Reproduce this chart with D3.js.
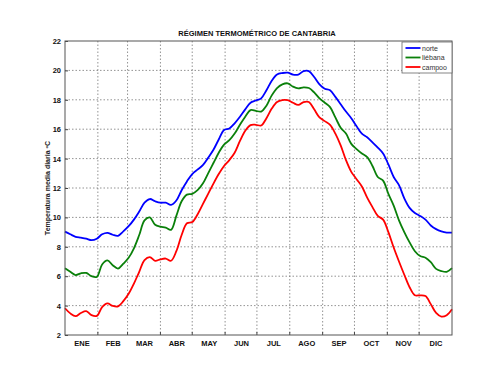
<!DOCTYPE html>
<html><head><meta charset="utf-8">
<script src="https://cdn.jsdelivr.net/npm/d3@7"></script>
<style>body{margin:0;background:#fff}svg{display:block}</style>
</head><body>
<svg id="c" width="500" height="375"></svg>
<script>
const title = "RÉGIMEN TERMOMÉTRICO DE CANTABRIA";
const yLabel = "Temperatura media diaria ºC";
const months = ["ENE","FEB","MAR","ABR","MAY","JUN","JUL","AGO","SEP","OCT","NOV","DIC"];
const monthStarts = [0,31,59,90,120,151,181,212,243,273,304,334,365];
const yTicks = [2,4,6,8,10,12,14,16,18,20,22];
const seriesNames = ["norte","liébana","campoo"];
const days = d3.range(0, 366, 5).concat([365]).filter((d,i,a)=>a.indexOf(d)===i);
const norte = [9.03,8.85,8.68,8.62,8.55,8.45,8.55,8.85,8.95,8.82,8.75,9.05,9.4,9.85,10.4,11.0,11.25,11.1,11.0,11.0,10.85,11.15,11.85,12.45,12.95,13.25,13.55,14.05,14.6,15.3,15.95,16.05,16.4,16.85,17.35,17.8,17.95,18.1,18.65,19.3,19.72,19.82,19.85,19.72,19.72,19.95,19.95,19.55,19.05,18.75,18.65,18.2,17.7,17.2,16.75,16.2,15.7,15.45,15.1,14.75,14.35,13.6,12.75,12.2,11.3,10.65,10.3,10.1,9.85,9.45,9.2,9.05,8.97,8.97];
const liebana = [6.54,6.3,6.08,6.2,6.22,6.0,5.95,6.8,7.08,6.75,6.52,6.85,7.25,7.9,8.8,9.8,10.0,9.5,9.37,9.3,9.15,10.1,11.1,11.55,11.6,11.85,12.3,13.0,13.7,14.4,14.95,15.25,15.7,16.3,16.85,17.3,17.25,17.2,17.6,18.3,18.8,19.05,19.12,18.9,18.78,18.85,18.8,18.5,18.1,17.8,17.5,16.8,16.1,15.7,15.0,14.65,14.35,14.1,13.5,12.75,12.5,11.6,10.8,9.8,9.0,8.3,7.7,7.37,7.25,6.95,6.5,6.35,6.3,6.55];
const campoo = [3.82,3.47,3.28,3.5,3.62,3.35,3.3,3.9,4.15,3.98,3.95,4.3,4.8,5.5,6.3,7.1,7.3,7.05,7.15,7.2,7.05,7.7,8.8,9.6,9.68,10.2,10.9,11.6,12.3,12.95,13.5,13.9,14.4,15.2,15.9,16.28,16.3,16.25,16.75,17.4,17.85,17.98,17.97,17.8,17.65,17.85,17.85,17.35,16.8,16.55,16.3,15.7,14.9,13.9,13.1,12.6,12.1,11.35,10.7,10.1,9.85,9.0,7.95,7.0,6.1,5.25,4.7,4.7,4.65,4.1,3.5,3.25,3.35,3.75];
const colors = ["#0000ff","#0a800a","#ff0000"];

const svg = d3.select("#c");
const L=65, R=452, T=41, B=335;
const x = d3.scaleLinear().domain([0,365]).range([L,R]);
const y = d3.scaleLinear().domain([2,22]).range([B,T]);
const font = "'Liberation Sans', Arial, sans-serif";

// grid
const g = svg.append("g");
g.selectAll("line.vg").data(monthStarts.slice(1,-1)).join("line")
  .attr("x1",d=>x(d)).attr("x2",d=>x(d)).attr("y1",T).attr("y2",B)
  .attr("stroke","#777").attr("stroke-width",0.8).attr("stroke-dasharray","1.5,2");
g.selectAll("line.hg").data(yTicks.slice(1,-1)).join("line")
  .attr("x1",L).attr("x2",R).attr("y1",d=>y(d)).attr("y2",d=>y(d))
  .attr("stroke","#777").attr("stroke-width",0.8).attr("stroke-dasharray","1.5,2");

// axes
const yAxis = d3.axisLeft(y).tickValues(yTicks).tickSize(-3).tickPadding(4);
const ya = svg.append("g").attr("transform",`translate(${L},0)`).call(yAxis);
ya.select(".domain").remove();
ya.selectAll("line").attr("stroke","#444");
ya.selectAll("text").attr("font-family",font).attr("font-size",7.5).attr("font-weight","bold").attr("fill","#111");

const mids = months.map((m,i)=>(monthStarts[i]+monthStarts[i+1])/2);
const xAxis = d3.axisBottom(x).tickValues(mids).tickFormat((d,i)=>months[i]).tickSize(0).tickPadding(6);
const xa = svg.append("g").attr("transform",`translate(0,${B})`).call(xAxis);
xa.select(".domain").remove();
xa.selectAll("text").attr("font-family",font).attr("font-size",7.5).attr("font-weight","bold").attr("fill","#111");
// boundary ticks
svg.append("g").selectAll("line").data(monthStarts.slice(1,-1)).join("line")
  .attr("x1",d=>x(d)).attr("x2",d=>x(d)).attr("y1",B).attr("y2",B-3).attr("stroke","#444");

// lines
const line = d3.line().x((d,i)=>x(days[i])).y(d=>y(d)).curve(d3.curveCatmullRom.alpha(0.5));
[norte,liebana,campoo].forEach((s,k)=>{
  svg.append("path").datum(s).attr("d",line).attr("fill","none")
    .attr("stroke",colors[k]).attr("stroke-width",1.8);
});

// frame
svg.append("rect").attr("x",L).attr("y",T).attr("width",R-L).attr("height",B-T)
  .attr("fill","none").attr("stroke","#555").attr("stroke-width",1);

// title
svg.append("text").attr("x",257).attr("y",36).attr("text-anchor","middle")
  .attr("font-family",font).attr("font-size",7.5).attr("font-weight","bold").attr("fill","#111").text(title);

// y label
svg.append("text").attr("transform",`translate(50,${(T+B)/2}) rotate(-90)`).attr("text-anchor","middle")
  .attr("font-family",font).attr("font-size",7).attr("font-weight","bold").attr("fill","#222").text(yLabel);

// legend
const lg = svg.append("g");
lg.append("rect").attr("x",402).attr("y",42).attr("width",50).attr("height",31)
  .attr("fill","#fff").attr("stroke","#666").attr("stroke-width",0.8);
seriesNames.forEach((n,k)=>{
  const yy = 48 + k*9.5;
  lg.append("line").attr("x1",405.5).attr("x2",420.5).attr("y1",yy).attr("y2",yy)
    .attr("stroke",colors[k]).attr("stroke-width",1.8);
  lg.append("text").attr("x",422).attr("y",yy+2.5).attr("font-family",font).attr("font-size",7)
    .attr("fill","#333").text(n);
});
</script>
</body></html>
